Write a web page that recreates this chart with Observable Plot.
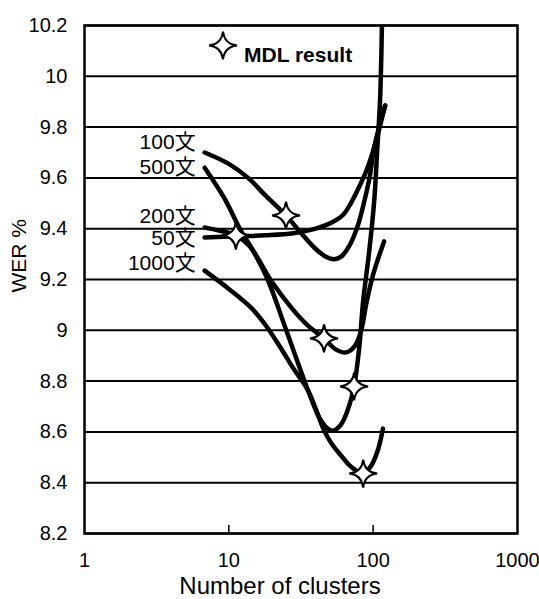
<!DOCTYPE html>
<html>
<head>
<meta charset="utf-8">
<script src="https://cdn.jsdelivr.net/npm/d3@7"></script>
<script src="https://cdn.jsdelivr.net/npm/@observablehq/plot@0.6"></script>
<style>
  html, body { margin: 0; padding: 0; background: #fff; }
</style>
</head>
<body>
<div id="chart"></div>
<script>
// ---- data ----
const series = ["50文", "100文", "200文", "500文", "1000文"];

const x50 = [6.8, 11.2, 18, 28, 40, 52, 62, 70, 80, 90, 101.6, 121];
const y50 = [9.365, 9.370, 9.374, 9.382, 9.40, 9.425, 9.455, 9.50, 9.565, 9.63, 9.72, 9.885];

const x100 = [6.8, 10, 13.6, 18, 24.9, 32, 40, 47, 53.6, 60, 68, 78, 87, 95, 101.6, 121];
const y100 = [9.70, 9.655, 9.60, 9.53, 9.452, 9.38, 9.32, 9.29, 9.28, 9.29, 9.33, 9.41, 9.51, 9.61, 9.72, 9.885];

const x200 = [6.8, 9, 11.2, 14, 19.6, 27, 35, 45.7, 55, 65, 75, 82.6, 90, 100, 119];
const y200 = [9.405, 9.39, 9.373, 9.33, 9.196, 9.09, 9.02, 8.968, 8.925, 8.913, 8.94, 9.0, 9.11, 9.22, 9.35];

const x500 = [6.8, 9.24, 12.1, 14.7, 18.7, 25, 35.4, 42, 47, 52.7, 60, 67, 73.8, 80, 85.3, 94, 101.7, 106.7, 111.6, 115];
const y500 = [9.64, 9.523, 9.393, 9.314, 9.196, 9.0, 8.763, 8.66, 8.62, 8.605, 8.63, 8.69, 8.78, 8.93, 9.117, 9.314, 9.51, 9.71, 9.905, 10.2];

const x1000 = [6.8, 10, 14.2, 18, 22.9, 28, 35.4, 45.7, 52, 59.9, 68, 76.2, 85.3, 97.1, 108, 117];
const y1000 = [9.235, 9.163, 9.09, 9.02, 8.93, 8.85, 8.763, 8.606, 8.55, 8.507, 8.47, 8.448, 8.436, 8.468, 8.53, 8.613];

// MDL result points (one per training size, same order as series)
const mdlX = [11.2, 24.9, 45.7, 73.8, 85.3];
const mdlY = [9.373, 9.452, 8.968, 8.779, 8.436];

const xTicks = [1, 10, 100, 1000];
const xInnerTicks = [10, 100];
const yTicks = [8.2, 8.4, 8.6, 8.8, 9, 9.2, 9.4, 9.6, 9.8, 10, 10.2];

const xLabel = "Number of clusters";
const yLabel = "WER %";
const legendLabel = "MDL result";

// ---- build tables ----
const xs = [x50, x100, x200, x500, x1000];
const ys = [y50, y100, y200, y500, y1000];
const rows = [];
series.forEach((s, i) => xs[i].forEach((x, j) => rows.push({series: s, x, y: ys[i][j]})));
const starts = series.map((s, i) => ({series: s, x: xs[i][0], y: ys[i][0]}));
const mdl = mdlX.map((x, i) => ({series: series[i], x, y: mdlY[i]}));

// four-pointed concave star
const sparkle = {
  draw(context, size) {
    const r = Math.sqrt(size / Math.PI);
    const k = r * 0.1;
    context.moveTo(0, -r);
    context.quadraticCurveTo(k, -k, r, 0);
    context.quadraticCurveTo(k, k, 0, r);
    context.quadraticCurveTo(-k, k, -r, 0);
    context.quadraticCurveTo(-k, -k, 0, -r);
    context.closePath();
  }
};

// label vertical nudges (style)
const labelDy = {"100文": -10, "500文": 0, "200文": -11, "50文": 1, "1000文": -7};

const fontFamily = "'Liberation Sans', Arial, 'Noto Sans CJK JP', sans-serif";

const chart = Plot.plot({
  width: 539,
  height: 599,
  marginLeft: 84,
  marginRight: 22,
  marginTop: 25,
  marginBottom: 66,
  style: {fontFamily, color: "#000", background: "#fff", overflow: "hidden"},
  x: {type: "log", domain: [1, 1000]},
  y: {domain: [8.2, 10.2]},
  marks: [
    Plot.ruleY(yTicks, {stroke: "#000", strokeWidth: 2}),
    Plot.ruleX(xInnerTicks, {stroke: "#000", strokeWidth: 1.5, insetTop: 500}),
    Plot.frame({stroke: "#000", strokeWidth: 2.5}),
    Plot.axisY(yTicks, {tickSize: 0, tickPadding: 17, fontSize: 20, fill: "#000", tickFormat: d => String(d), label: null}),
    Plot.axisX(xTicks, {tickSize: 0, tickPadding: 19, fontSize: 20, fill: "#000", tickFormat: d => String(d), label: null}),
    Plot.line(rows, {x: "x", y: "y", z: "series", stroke: "#000", strokeWidth: 4.5, curve: "catmull-rom", clip: true}),
    ...series.map(s => Plot.text(starts.filter(d => d.series === s), {
      x: "x", y: "y", text: "series", textAnchor: "end", dx: -9, dy: labelDy[s], fontSize: 21, fill: "#000"
    })),
    Plot.dot(mdl, {x: "x", y: "y", symbol: sparkle, r: 14, fill: "#fff", stroke: "#000", strokeWidth: 2}),
    Plot.dot([legendLabel], {frameAnchor: "top", dx: -78, dy: 20, symbol: sparkle, r: 14, fill: "#fff", stroke: "#000", strokeWidth: 2}),
    Plot.text([legendLabel], {frameAnchor: "top", dx: -57, dy: 22, textAnchor: "start", fontWeight: "bold", fontSize: 21, fill: "#000"}),
    Plot.text([yLabel], {frameAnchor: "left", dx: -65, dy: 13, rotate: -90, fontSize: 21, fill: "#000"}),
    Plot.text([xLabel], {frameAnchor: "bottom", dx: -21, dy: 60, fontSize: 24, fill: "#000"})
  ]
});
document.getElementById("chart").appendChild(chart);
</script>
</body>
</html>
